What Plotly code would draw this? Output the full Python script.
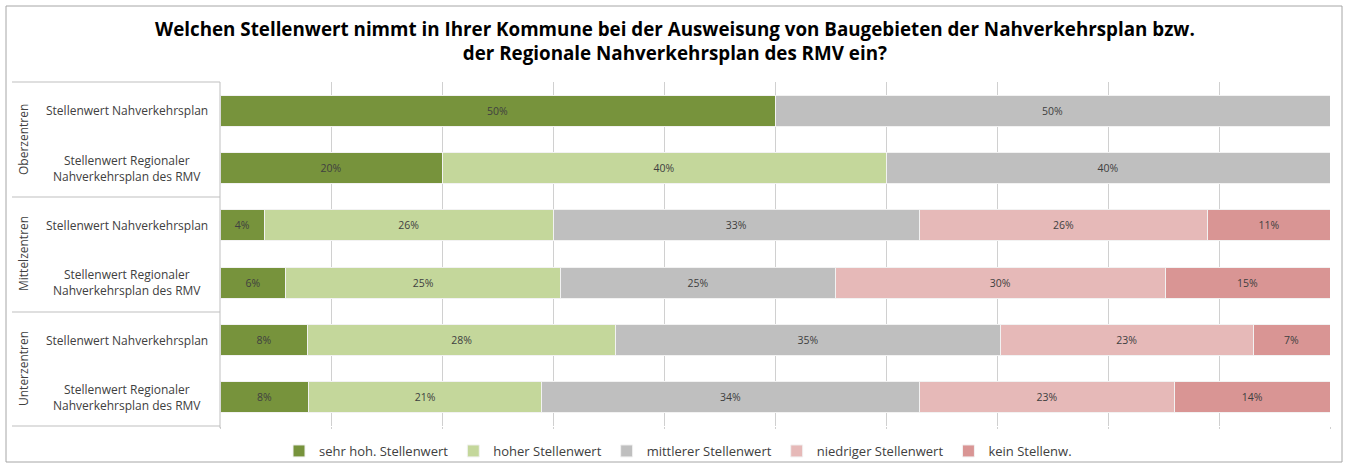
import plotly.graph_objects as go

# Survey categories (rows, top to bottom)
groups = ["Oberzentren", "Mittelzentren", "Unterzentren"]
row_labels = [
    "Stellenwert Nahverkehrsplan",
    "Stellenwert Regionaler<br>Nahverkehrsplan des RMV",
] * 3

# Answer shares in percent per row
series_names = [
    "sehr hoh. Stellenwert",
    "hoher Stellenwert",
    "mittlerer Stellenwert",
    "niedriger Stellenwert",
    "kein Stellenw.",
]
sehr_hoch = [50, 20, 4, 6, 8, 8]
hoch = [0, 40, 26, 25, 28, 21]
mittel = [50, 40, 33, 25, 35, 34]
niedrig = [0, 0, 26, 30, 23, 23]
kein = [0, 0, 11, 15, 7, 14]
series_values = [sehr_hoch, hoch, mittel, niedrig, kein]
colors = ["#77933C", "#C4D79B", "#BFBFBF", "#E6B9B8", "#D99594"]

W, H = 1350, 466
L, R, T, B = 220, 20, 82, 40
PW, PH = W - L - R, H - T - B


def px(x):
    return (x - L) / PW


def py(y):
    return (H - B - y) / PH


FONT = "Open Sans"
rows = list(range(len(row_labels)))

fig = go.Figure()
for name, vals, col in zip(series_names, series_values, colors):
    fig.add_trace(go.Bar(
        y=rows,
        x=[v if v else None for v in vals],
        orientation="h",
        name=name,
        marker=dict(color=col, line=dict(color="#F2F2F2", width=1)),
        text=[f"{v}%" if v else "" for v in vals],
        textposition="inside",
        insidetextanchor="middle",
        textangle=0,
        constraintext="none",
        textfont=dict(family=FONT, size=10.5, color="#404040"),
        width=0.54,
        hoverinfo="name+x",
    ))

shapes = [
    # outer frame
    dict(type="rect", xref="paper", yref="paper",
         x0=px(6), x1=px(1342), y0=py(6), y1=py(462),
         line=dict(color="#A6A6A6", width=1), fillcolor="rgba(0,0,0,0)", layer="below"),
    # label table right edge
    dict(type="line", xref="paper", yref="paper",
         x0=0, x1=0, y0=py(82), y1=py(428),
         line=dict(color="#BFBFBF", width=1)),
]
for yy in [82, 197, 312, 426]:
    shapes.append(dict(type="line", xref="paper", yref="paper",
                       x0=px(12), x1=0, y0=py(yy), y1=py(yy),
                       line=dict(color="#BFBFBF", width=1)))

annotations = [
    dict(text="<b>Welchen Stellenwert nimmt in Ihrer Kommune bei der Ausweisung von Baugebieten der Nahverkehrsplan bzw.<br>der Regionale Nahverkehrsplan des RMV ein?</b>",
         xref="paper", yref="paper", x=px(675), y=py(41), xanchor="center", yanchor="middle",
         showarrow=False, font=dict(family=FONT, size=18.8, color="#000000"), align="center"),
]
group_centers = [140, 254, 369]
for g, yc in zip(groups, group_centers):
    annotations.append(dict(text=g, xref="paper", yref="paper", x=px(23), y=py(yc),
                            textangle=-90, showarrow=False, xanchor="center", yanchor="middle",
                            font=dict(family=FONT, size=12, color="#404040")))
for r, lab in zip(rows, row_labels):
    annotations.append(dict(text=lab, xref="paper", yref="y", x=px(127), y=r,
                            showarrow=False, xanchor="center", yanchor="middle", align="center",
                            font=dict(family=FONT, size=12, color="#404040")))

fig.update_layout(
    width=W, height=H,
    margin=dict(l=L, r=R, t=T, b=B, autoexpand=False),
    paper_bgcolor="white", plot_bgcolor="white",
    barmode="stack", barnorm="percent",
    showlegend=True,
    legend=dict(orientation="h", x=px(678), xanchor="center",
                y=py(451), yanchor="middle", bgcolor="rgba(0,0,0,0)",
                font=dict(family=FONT, size=13, color="#404040"),
                itemwidth=30, traceorder="normal"),
    xaxis=dict(range=[0, 100], dtick=10, showgrid=True, gridcolor="#D0D0D0", gridwidth=1,
               showticklabels=False, zeroline=False, ticks="outside", ticklen=2,
               tickcolor="#D0D0D0"),
    yaxis=dict(range=[5.5, -0.5], showticklabels=False, showgrid=False, zeroline=False),
    shapes=shapes,
    annotations=annotations,
    font=dict(family=FONT),
)

fig.write_html("out.html")
